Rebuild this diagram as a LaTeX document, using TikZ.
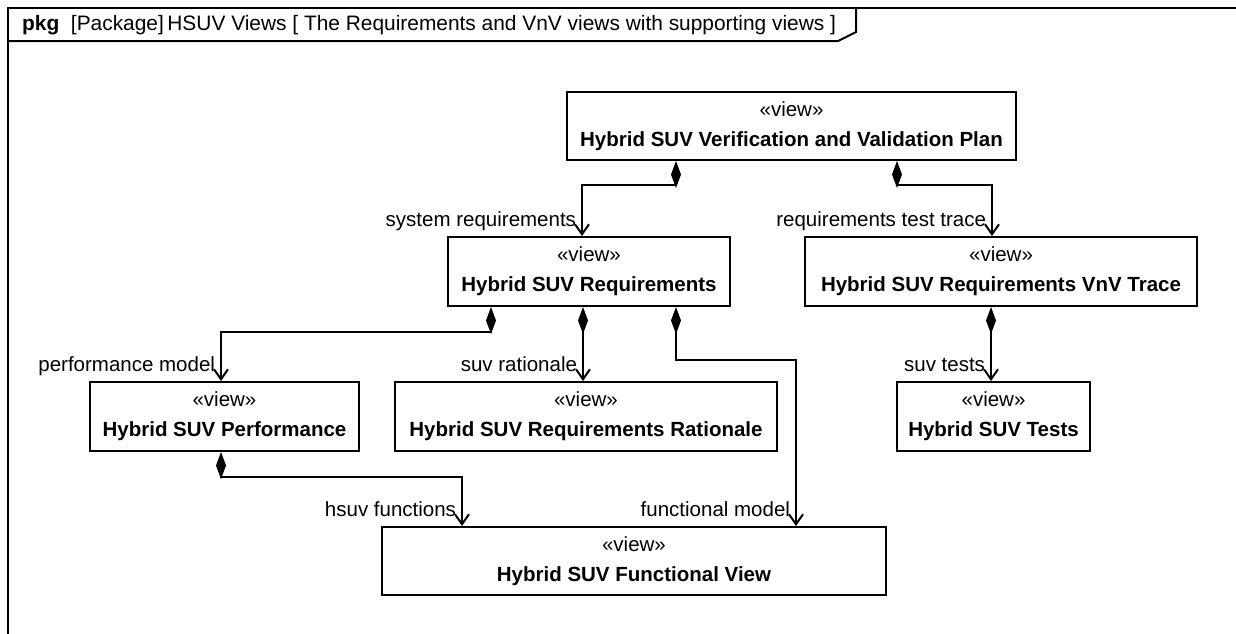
\documentclass[tikz,border=0pt]{standalone}
\usepackage{fontspec}
\setmainfont{Liberation Sans}
\usetikzlibrary{arrows.meta}
\begin{document}
\begin{tikzpicture}[x=1pt,y=-1pt,
  every node/.style={font=\fontsize{20.5pt}{30pt}\selectfont},
  viewbox/.style={draw,line width=2pt,inner sep=0pt,align=center,fill=white},
  comp/.style={line width=2pt,{Diamond[length=27pt,width=10pt]}-{Straight Barb[length=10pt,width=14pt,line width=2pt]}},
  lbl/.style={anchor=base east,inner sep=0pt,xshift=-5pt,yshift=10pt},
  frameline/.style={line width=2pt}]
\useasboundingbox (0,0) rectangle (1236,633);
\fill[white] (0,0) rectangle (1236,633);
% frame
\draw[frameline] (1240,8) -- (8,8) -- (8,640);
\draw[frameline] (8,41) -- (838,41) -- (856,32) -- (856,8);
\node[anchor=west,inner sep=0pt,font=\fontsize{20.9pt}{24pt}\selectfont] (hdr) at (22,25) {\textbf{pkg}\ \ [Package]\,HSUV Views [ The Requirements and VnV views with supporting views ]};
% nodes
\node[viewbox,minimum width=449pt,minimum height=68pt] (plan) at (791.5,126) {«view»\\\textbf{Hybrid SUV Verification and Validation Plan}};
\node[viewbox,minimum width=282pt,minimum height=69pt] (req) at (589,271.5) {«view»\\\textbf{Hybrid SUV Requirements}};
\node[viewbox,minimum width=392pt,minimum height=69pt] (vnv) at (1001,271.5) {«view»\\\textbf{Hybrid SUV Requirements VnV Trace}};
\node[viewbox,minimum width=269pt,minimum height=69pt] (perf) at (224.5,416.5) {«view»\\\textbf{Hybrid SUV Performance}};
\node[viewbox,minimum width=382pt,minimum height=69pt] (rat) at (586,416.5) {«view»\\\textbf{Hybrid SUV Requirements Rationale}};
\node[viewbox,minimum width=193pt,minimum height=69pt] (tests) at (993.5,416.5) {«view»\\\textbf{Hybrid SUV Tests}};
\node[viewbox,minimum width=504pt,minimum height=68pt] (func) at (634,561) {«view»\\\textbf{Hybrid SUV Functional View}};
% connectors
\draw[comp] ([xshift=110pt]plan.south west) -- ++(0,24) -| ([xshift=135pt]req.north west) node[lbl] {system requirements};
\draw[comp] ([xshift=331pt]plan.south west) -- ++(0,24) -| ([xshift=188pt]vnv.north west) node[lbl] {requirements test trace};
\draw[comp] ([xshift=44pt]req.south west) -- ++(0,25) -| ([xshift=132pt]perf.north west) node[lbl] {performance model};
\draw[comp] ([xshift=136pt]req.south west) -- ([xshift=189pt]rat.north west) node[lbl] {suv rationale};
\draw[comp] ([xshift=229pt]req.south west) -- ++(0,53) -| ([xshift=415pt]func.north west) node[lbl] {functional model};
\draw[comp] ([xshift=187pt]vnv.south west) -- ([xshift=95pt]tests.north west) node[lbl] {suv tests};
\draw[comp] ([xshift=132pt]perf.south west) -- ++(0,25) -| ([xshift=81pt]func.north west) node[lbl] {hsuv functions};
\end{tikzpicture}
\end{document}
